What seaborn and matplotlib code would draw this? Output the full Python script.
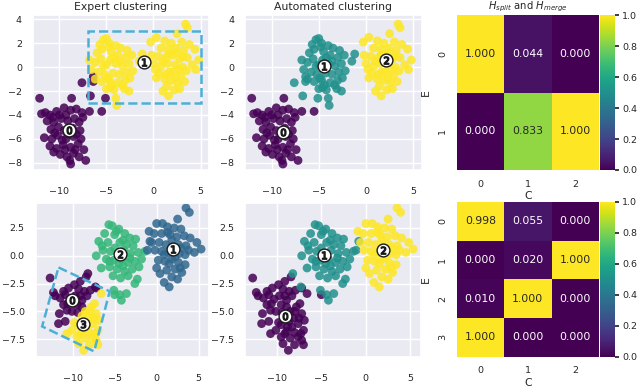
import matplotlib
matplotlib.use('Agg')
import matplotlib.pyplot as plt
import matplotlib.patches as mpatches
import numpy as np
import pandas as pd
import seaborn as sns

# ---- top row data: groups keyed by (expert label, automated label) ----
top_e0c0_x = [-12.1, -8.7, -11.9, -11.5, -11.0, -10.3, -9.5, -8.8, -8.2, -7.6, -6.8, -11.3, -10.6, -9.8,
              -9.1, -8.4, -7.9, -10.9, -10.1, -9.5, -8.6, -7.8, -11.6, -10.8, -10.2, -9.3, -8.5, -7.7,
              -11.0, -10.3, -9.6, -8.8, -8.0, -7.4, -9.9, -9.2, -8.5, -7.9, -8.8, -7.2, -9.4, -10.6, -5.5,
              -10.0, -9.0, -8.2, -10.5, -9.7, -8.3, -9.3, -10.7, -8.9, -7.5]
top_e0c0_y = [-2.6, -2.6, -3.9, -3.8, -4.0, -3.7, -3.4, -3.6, -3.5, -3.8, -3.7, -4.5, -4.6, -4.3,
              -4.5, -4.3, -4.6, -5.2, -5.0, -5.3, -5.1, -5.3, -5.9, -6.0, -5.7, -6.0, -5.8, -6.0,
              -6.6, -6.8, -6.5, -6.7, -6.4, -6.9, -7.3, -7.5, -7.2, -7.5, -8.1, -7.8, -6.9, -7.1, -3.7,
              -4.0, -5.6, -5.6, -5.5, -6.1, -6.9, -4.0, -4.2, -7.8, -4.2]
top_e0c1_x = [-7.6, -6.4, -6.4, -6.7, -5.1]
top_e0c1_y = [-1.3, -0.8, -1.2, -2.4, -2.6]
top_e1c1_x = [-5.3, -5.0, -4.7, -4.0, -3.5, -2.8, -6.0, -5.5, -4.5, -3.8, -3.0, -2.3, -1.2, -6.8,
              -6.2, -5.6, -5.0, -4.0, -3.3, -2.6, -1.5, -6.6, -5.8, -5.2, -4.3, -3.6, -2.9, -2.2,
              -6.2, -5.5, -4.7, -3.8, -3.0, -4.2, -3.1, -2.6, -4.0, -3.9, -4.6, -5.0,
              -4.8, -4.2, -5.3, -3.6, -4.9, -3.3, -4.4, -5.7, -2.5, -4.6]
top_e1c1_y = [2.3, 2.4, 2.0, 1.8, 1.6, 1.4, 1.2, 1.5, 1.3, 1.0, 0.8, 1.0, 1.1, 0.6,
              0.4, 0.7, 0.2, 0.3, 0.1, 0.3, 0.5, -0.2, -0.4, -0.6, -0.5, -0.6, -0.4, -0.3,
              -1.0, -1.2, -1.1, -1.3, -1.1, -1.9, -1.8, -2.0, -2.6, -3.2, -1.7, -1.8,
              1.7, 0.8, 0.1, 0.5, -0.9, -1.5, -1.5, 1.9, -0.9, 0.6]
top_e1c2_x = [3.4, 3.6, 2.5, -0.3, 0.3, 1.2, 1.9, 3.0, 3.8, 0.8, 1.6, 2.4, 3.2, 4.4, -0.2, 0.5,
              1.3, 2.0, 2.8, 3.6, 4.8, 0.0, 0.8, 1.5, 2.3, 3.1, 4.1, 0.6, 1.3, 2.1, 2.9, 3.5,
              0.3, 1.9, 2.6, 3.3, 1.4, 2.2, 1.0, 1.6, 4.5,
              1.6, 2.4, 1.0, 2.7, 1.7, 2.3, 3.1, 0.2, 1.2, 2.8]
top_e1c2_y = [3.6, 3.3, 2.8, 2.1, 2.5, 2.2, 2.0, 2.1, 1.9, 1.6, 1.5, 1.6, 1.4, 1.5, 1.0, 0.9,
              0.8, 1.0, 0.7, 0.8, 0.6, 0.3, 0.1, 0.3, 0.2, 0.0, 0.2, -0.5, -0.6, -0.4, -0.7, -0.3,
              -0.9, -1.1, -1.3, -1.2, -1.6, -1.9, -2.0, -2.4, -0.2,
              1.1, 1.2, 0.5, -0.2, -0.4, -0.9, 0.9, -0.2, -1.0, -1.8]

# ---- bottom row data ----
bot_e0c0_x = [-12.7, -8.4, -9.1, -9.8, -10.5, -9.3, -8.6, -7.9, -7.2, -12.1, -11.5, -10.9, -10.3,
              -9.5, -8.9, -8.3, -11.1, -10.7, -10.1, -9.4, -11.6, -11.7, -10.9, -8.9, -12.3,
              -11.1, -9.7, -10.6, -9.1]
bot_e0c0_y = [-2.0, -1.9, -2.3, -2.6, -2.9, -3.0, -3.2, -3.1, -2.9, -3.6, -3.8, -3.5, -3.9,
              -4.4, -4.0, -3.6, -4.4, -4.9, -5.0, -5.1, -5.2, -6.1, -5.9, -4.6, -3.3,
              -3.2, -3.6, -4.3, -3.6]
bot_e0c1_x = [-8.2, -7.3]
bot_e0c1_y = [-1.6, -2.8]
bot_e3c0_x = [-6.6, -7.8, -7.2, -8.1, -8.9, -9.5, -8.3, -7.6, -7.0, -10.1, -10.7, -9.5, -8.5,
              -7.6, -7.0, -8.7, -8.0, -9.3, -8.9, -7.4, -8.0, -6.9, -9.8, -7.3, -8.6,
              -8.5, -8.0, -9.1, -7.5, -8.8, -7.2]
bot_e3c0_y = [-3.4, -4.6, -5.2, -5.6, -5.4, -6.2, -6.4, -6.1, -6.7, -6.7, -7.0, -7.3, -7.4,
              -7.3, -8.0, -8.5, -8.0, -7.9, -6.8, -4.3, -5.0, -5.8, -6.0, -7.0, -5.9,
              -5.0, -6.9, -7.0, -5.6, -6.4, -7.6]
bot_e2c0_x = [-5.0]
bot_e2c0_y = [-3.5]
bot_e2c1_x = [-5.7, -5.3, -4.5, -3.8, -6.2, -5.0, -3.2, -2.5, -6.9, -5.8, -4.4, -3.6, -2.8, -6.4,
              -5.5, -3.9, -3.1, -2.2, -1.4, -7.2, -6.0, -5.1, -4.2, -3.4, -2.6, -1.8, -6.6, -5.6,
              -4.7, -3.8, -2.9, -5.2, -4.3, -2.3, -2.6, -5.1, -4.4, -3.6, -4.2,
              -4.8, -4.0, -5.0, -4.5, -3.2, -4.0, -5.6, -3.4, -6.5, -2.1]
bot_e2c1_y = [2.8, 2.7, 2.4, 2.0, 2.0, 1.9, 1.6, 1.5, 1.3, 1.2, 1.2, 1.0, 0.9, 0.5,
              0.4, 0.5, 0.2, 0.3, 0.4, 0.0, -0.3, -0.4, -0.3, -0.6, -0.5, -0.3, -1.1, -1.0,
              -1.2, -1.4, -1.2, -1.8, -2.0, -2.1, -2.5, -3.1, -3.5, -3.4, -4.0,
              2.2, 1.4, 0.7, -0.7, -0.2, -0.9, -0.5, -1.8, 0.9, -1.0]
bot_e1c1_x = [-0.8, -1.1]
bot_e1c1_y = [1.3, 0.5]
bot_e1c2_x = [3.5, 3.9, 2.5, 0.0, 0.7, 1.3, 2.1, 2.9, -0.9, -0.3, 0.6, 1.6, 2.4, 3.3, 4.0, -0.6,
              0.3, 1.1, 2.6, 3.5, 4.8, 5.3, -0.2, 0.6, 1.4, 2.7, 3.4, 4.5, 0.2, 1.0, 1.8, 2.6,
              3.4, 0.0, 1.2, 2.2, 3.0, 1.8, 2.5, 0.9, 1.5,
              1.8, 2.9, 1.9, 0.9, 2.2, 1.5, 2.8, 3.8, 1.3, 0.4]
bot_e1c2_y = [4.3, 3.9, 3.3, 2.9, 2.9, 2.6, 2.5, 2.4, 2.2, 2.0, 2.0, 1.9, 1.7, 1.8, 1.6, 1.2,
              1.2, 1.0, 1.0, 0.9, 1.2, 0.6, 0.5, 0.4, 0.3, 0.2, 0.1, 0.3, -0.4, -0.5, -0.3, -0.6,
              -0.8, -1.1, -1.3, -1.2, -1.5, -1.9, -2.1, -2.4, -2.8,
              1.4, 0.7, 0.8, 0.1, -0.1, -0.7, -1.1, 0.5, 2.1, -1.6]

# cluster label positions
top_expert_centers = [(-9.0, -5.25), (-1.0, 0.45)]
top_auto_centers = [(-8.8, -5.45), (-4.5, 0.1), (2.1, 0.6)]
bot_expert_centers = [(-10.1, -4.0), (2.0, 0.6), (-4.4, 0.15), (-8.75, -6.15)]
bot_auto_centers = [(-9.05, -5.4), (-4.7, 0.1), (1.95, 0.55)]

# expert boxes
top_box = (-7.0, -3.0, 12.0, 6.0)  # x, y, width, height
bot_box_x = [-11.7, -5.6, -7.45, -13.65]
bot_box_y = [-1.05, -3.2, -8.6, -6.35]

# split / merge matrices
hm_top = [[1.000, 0.044, 0.000],
          [0.000, 0.833, 1.000]]
hm_bot = [[0.998, 0.055, 0.000],
          [0.000, 0.020, 1.000],
          [0.010, 1.000, 0.000],
          [1.000, 0.000, 0.000]]

BOX_COLOR = '#4cb0d6'
TICK_SIZE = 6.8


def build_frame(groups):
    frames = []
    for xs, ys, e, c in groups:
        frames.append(pd.DataFrame({'x': xs, 'y': ys, 'expert': e, 'auto': c}))
    return pd.concat(frames, ignore_index=True)


top_df = build_frame([(top_e0c0_x, top_e0c0_y, 0, 0), (top_e0c1_x, top_e0c1_y, 0, 1),
                      (top_e1c1_x, top_e1c1_y, 1, 1), (top_e1c2_x, top_e1c2_y, 1, 2)])
bot_df = build_frame([(bot_e0c0_x, bot_e0c0_y, 0, 0), (bot_e0c1_x, bot_e0c1_y, 0, 1),
                      (bot_e3c0_x, bot_e3c0_y, 3, 0), (bot_e2c0_x, bot_e2c0_y, 2, 0),
                      (bot_e2c1_x, bot_e2c1_y, 2, 1), (bot_e1c1_x, bot_e1c1_y, 1, 1),
                      (bot_e1c2_x, bot_e1c2_y, 1, 2)])


def draw_scatter(ax, df, col, centers, xlim, ylim, yticks):
    n = len(centers)
    palette = {i: plt.cm.viridis(i / (n - 1)) for i in range(n)}
    sns.scatterplot(data=df, x='x', y='y', hue=col, palette=palette, s=40, alpha=0.85,
                    linewidth=0, legend=False, ax=ax)
    for i, (cx, cy) in enumerate(centers):
        ax.scatter(cx, cy, marker='o', c='white', s=85, edgecolor='k', linewidth=1.0, zorder=4)
        ax.scatter(cx, cy, marker=f'${i}$', c='k', s=28, zorder=5)
    ax.set_xlim(*xlim)
    ax.set_ylim(*ylim)
    ax.set_xticks([-10, -5, 0, 5])
    ax.set_yticks(yticks)
    ax.set_xlabel('')
    ax.set_ylabel('')
    ax.tick_params(axis='x', labelsize=TICK_SIZE, pad=6)
    ax.tick_params(axis='y', labelsize=TICK_SIZE, pad=2)


def draw_heatmap(ax, cax, values):
    sns.heatmap(values, annot=True, fmt='.3f', cmap='viridis', vmin=0, vmax=1, ax=ax,
                cbar_ax=cax, annot_kws={'size': 7.8})
    ax.set_xlabel('C', fontsize=7.8, labelpad=2)
    ax.set_ylabel('E', fontsize=7.8, labelpad=5)
    ax.tick_params(labelsize=TICK_SIZE, length=0, pad=7)
    ax.set_yticklabels(ax.get_yticklabels(), rotation=90, va='center')
    cax.tick_params(labelsize=TICK_SIZE, length=3, pad=2)
    cax.set_yticks([0.0, 0.2, 0.4, 0.6, 0.8, 1.0])
    cax.set_yticklabels(['0.0', '0.2', '0.4', '0.6', '0.8', '1.0'])


sns.set_theme(style='darkgrid')
plt.rcParams['font.family'] = ['DejaVu Sans']

fig = plt.figure(figsize=(6.4, 3.89), dpi=100)
ax_te = fig.add_axes([0.0516, 0.563, 0.275, 0.398])
ax_ta = fig.add_axes([0.383, 0.563, 0.276, 0.398])
ax_th = fig.add_axes([0.7135, 0.563, 0.2224, 0.398])
cb_t = fig.add_axes([0.9375, 0.563, 0.0234, 0.398])
ax_be = fig.add_axes([0.056, 0.0823, 0.270, 0.396])
ax_ba = fig.add_axes([0.383, 0.0823, 0.275, 0.396])
ax_bh = fig.add_axes([0.7135, 0.0831, 0.2224, 0.398])
cb_b = fig.add_axes([0.9375, 0.0831, 0.0234, 0.398])

top_xlim = (-12.8, 5.9)
top_ylim = (-8.6, 4.35)
top_yticks = [-8, -6, -4, -2, 0, 2, 4]
draw_scatter(ax_te, top_df, 'expert', top_expert_centers, top_xlim, top_ylim, top_yticks)
draw_scatter(ax_ta, top_df, 'auto', top_auto_centers, top_xlim, top_ylim, top_yticks)
ax_te.add_patch(mpatches.Rectangle(top_box[:2], top_box[2], top_box[3], fill=False,
                                   edgecolor=BOX_COLOR, linestyle='--', linewidth=1.8, zorder=6))
ax_te.set_title('Expert clustering', fontsize=7.8, pad=4)
ax_ta.set_title('Automated clustering', fontsize=7.8, pad=4)

bot_yticks = [-7.5, -5.0, -2.5, 0.0, 2.5]
draw_scatter(ax_be, bot_df, 'expert', bot_expert_centers, (-14.4, 6.2), (-9.1, 4.75), bot_yticks)
draw_scatter(ax_ba, bot_df, 'auto', bot_auto_centers, (-13.55, 6.2), (-9.1, 4.75), bot_yticks)
ax_be.add_patch(mpatches.Polygon(np.column_stack([bot_box_x, bot_box_y]), closed=True, fill=False,
                                 edgecolor=BOX_COLOR, linestyle='--', linewidth=1.8, zorder=6))

draw_heatmap(ax_th, cb_t, hm_top)
ax_th.set_title('$H_{split}$ and $H_{merge}$', fontsize=7.2, pad=4)
draw_heatmap(ax_bh, cb_b, hm_bot)

fig.savefig('out.png', dpi=100)
